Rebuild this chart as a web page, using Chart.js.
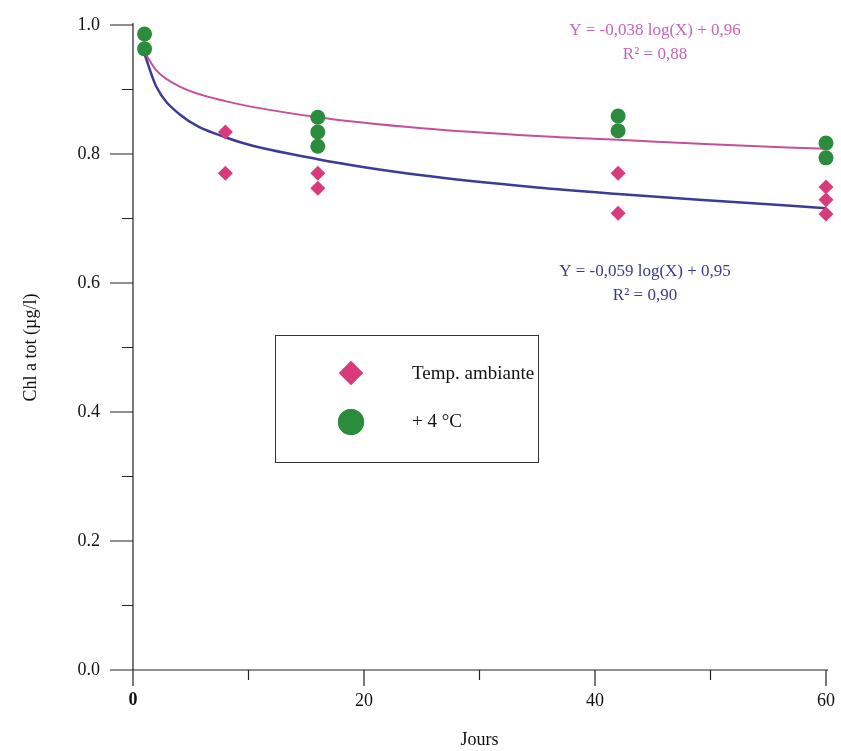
<!DOCTYPE html>
<html>
<head>
<meta charset="utf-8">
<script src="https://cdn.jsdelivr.net/npm/chart.js@4.4.1/dist/chart.umd.min.js"></script>
<style>
  html, body { margin: 0; padding: 0; background: #fff; }
  #wrap { width: 841px; height: 751px; }
</style>
</head>
<body>
<div id="wrap"><canvas id="myChart" width="841" height="751"></canvas></div>
<script>
// measured points (days, Chl a tot)
var ambX = [8, 8, 16, 16, 42, 42, 60, 60, 60];
var ambY = [0.834, 0.770, 0.770, 0.747, 0.770, 0.708, 0.749, 0.729, 0.707];
var coldX = [1, 1, 16, 16, 16, 42, 42, 60, 60];
var coldY = [0.986, 0.963, 0.857, 0.834, 0.812, 0.859, 0.836, 0.817, 0.794];

// trend curves
var fitX = [1, 2, 4, 8, 16, 25, 35, 42, 50, 60];
var fitColdY = [0.958, 0.930, 0.905, 0.882, 0.857, 0.840, 0.828, 0.822, 0.815, 0.808];
var fitAmbY = [0.955, 0.905, 0.862, 0.826, 0.792, 0.767, 0.748, 0.738, 0.728, 0.716];

var xTicks = [0, 20, 40, 60];
var xMinor = [10, 30, 50];
var yTicks = [0, 0.2, 0.4, 0.6, 0.8, 1.0];
var yMinor = [0.1, 0.3, 0.5, 0.7, 0.9];

var legendLabels = ["Temp. ambiante", "+ 4 °C"];
var eqCold = ["Y = -0,038 log(X) + 0,96", "R² = 0,88"];
var eqAmb = ["Y = -0,059 log(X) + 0,95", "R² = 0,90"];

var PINK = "#d83a7c";
var GREEN = "#2a8c3c";
var SERIF = "'Liberation Serif', 'DejaVu Serif', serif";

function pts(xs, ys) {
    var out = [];
    for (var i = 0; i < xs.length; i++) out.push({x: xs[i], y: ys[i]});
    return out;
}

// axes, ticks, legend box and equations
var extras = {
    id: "extras",
    afterDraw: function (chart) {
        var ctx = chart.ctx;
        var xs = chart.scales.x, ys = chart.scales.y;
        var x0 = xs.getPixelForValue(0), y0 = ys.getPixelForValue(0);
        ctx.save();
        ctx.strokeStyle = "#222";
        ctx.lineWidth = 1.2;
        ctx.beginPath();
        ctx.moveTo(x0, ys.getPixelForValue(1.0) - 2);
        ctx.lineTo(x0, y0 + 16);
        ctx.moveTo(x0 - 22, y0);
        ctx.lineTo(xs.getPixelForValue(60) + 2, y0);
        yTicks.forEach(function (v) {
            var p = ys.getPixelForValue(v);
            ctx.moveTo(x0 - 23, p); ctx.lineTo(x0, p);
        });
        yMinor.forEach(function (v) {
            var p = ys.getPixelForValue(v);
            ctx.moveTo(x0 - 11, p); ctx.lineTo(x0, p);
        });
        xTicks.forEach(function (v) {
            var p = xs.getPixelForValue(v);
            ctx.moveTo(p, y0); ctx.lineTo(p, y0 + 16);
        });
        xMinor.forEach(function (v) {
            var p = xs.getPixelForValue(v);
            ctx.moveTo(p, y0); ctx.lineTo(p, y0 + 10);
        });
        ctx.stroke();

        // legend
        ctx.lineWidth = 1;
        ctx.strokeStyle = "#333";
        ctx.strokeRect(275.5, 335.5, 263, 127);
        ctx.fillStyle = PINK;
        Chart.helpers.drawPoint(ctx, {pointStyle: "rectRot", radius: 12, rotation: 0, borderWidth: 0}, 351, 373);
        ctx.fill();
        ctx.fillStyle = GREEN;
        Chart.helpers.drawPoint(ctx, {pointStyle: "circle", radius: 13, rotation: 0, borderWidth: 0}, 351, 422);
        ctx.fill();
        ctx.fillStyle = "#111";
        ctx.font = "19px " + SERIF;
        ctx.textBaseline = "middle";
        ctx.textAlign = "left";
        ctx.fillText(legendLabels[0], 412, 374);
        ctx.fillText(legendLabels[1], 412, 422);

        // equations
        ctx.textAlign = "center";
        ctx.font = "17px " + SERIF;
        ctx.fillStyle = "#c565b8";
        ctx.fillText(eqCold[0], 655, 31);
        ctx.fillText(eqCold[1], 655, 55);
        ctx.fillStyle = "#3b3b8c";
        ctx.fillText(eqAmb[0], 645, 272);
        ctx.fillText(eqAmb[1], 645, 296);
        ctx.restore();
    }
};

var ctx = document.getElementById("myChart").getContext("2d");
var myChart = new Chart(ctx, {
    type: "scatter",
    data: {
        datasets: [{
            label: legendLabels[0],
            data: pts(ambX, ambY),
            pointStyle: "rectRot",
            pointRadius: 7.5,
            backgroundColor: PINK,
            borderWidth: 0,
            order: 1
        }, {
            label: legendLabels[1],
            data: pts(coldX, coldY),
            pointStyle: "circle",
            pointRadius: 7.5,
            backgroundColor: GREEN,
            borderWidth: 0,
            order: 1
        }, {
            label: "fit cold",
            data: pts(fitX, fitColdY),
            showLine: true,
            pointRadius: 0,
            borderColor: "#c4509a",
            borderWidth: 2,
            cubicInterpolationMode: "monotone",
            order: 2
        }, {
            label: "fit amb",
            data: pts(fitX, fitAmbY),
            showLine: true,
            pointRadius: 0,
            borderColor: "#3c3c98",
            borderWidth: 2.5,
            cubicInterpolationMode: "monotone",
            order: 2
        }]
    },
    options: {
        responsive: false,
        animation: false,
        clip: false,
        layout: { padding: { top: 25, right: 15, left: 0, bottom: 0 } },
        plugins: { legend: { display: false }, tooltip: { enabled: false } },
        scales: {
            x: {
                type: "linear", min: 0, max: 60,
                afterFit: function (s) {
                    s.height = 81;
                    s.paddingLeft = 0; s.paddingRight = 0;
                },
                grid: { display: false, drawTicks: false },
                border: { display: false },
                ticks: {
                    stepSize: 20, padding: 20, color: "#111",
                    font: function (c) {
                        return { family: SERIF, size: 18, weight: c.tick && c.tick.value === 0 ? "bold" : "normal" };
                    }
                },
                title: { display: true, text: "Jours", color: "#111", font: { family: SERIF, size: 18 }, padding: { top: 0, bottom: 0 } }
            },
            y: {
                min: 0, max: 1,
                afterFit: function (s) {
                    s.width = 133;
                    s.paddingTop = 0; s.paddingBottom = 0;
                },
                grid: { display: false, drawTicks: false },
                border: { display: false },
                ticks: {
                    stepSize: 0.2, padding: 33, color: "#111",
                    font: { family: SERIF, size: 18 },
                    callback: function (v) { return v.toFixed(1); }
                },
                title: { display: true, text: "Chl a tot (µg/l)", color: "#111", font: { family: SERIF, size: 18 }, padding: { top: 20, bottom: 0 } }
            }
        }
    },
    plugins: [extras]
});
</script>
</body>
</html>
